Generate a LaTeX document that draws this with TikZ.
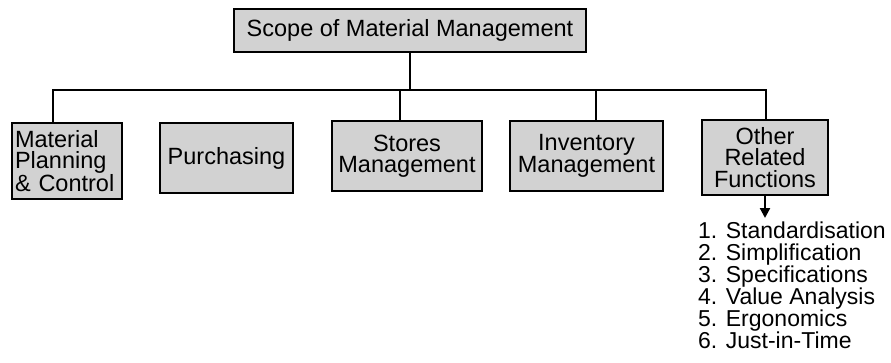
\documentclass[tikz,border=0pt]{standalone}
\usepackage{fontspec}
\setmainfont{Liberation Sans}
\usetikzlibrary{arrows.meta}
\begin{document}
\begin{tikzpicture}[x=1pt,y=-1pt,
  box/.style={draw=black,line width=2.2pt,fill=boxgray,inner sep=0pt,align=center,
    font=\fontsize{23.5}{21.5}\selectfont},
  conn/.style={line width=2.2pt}]
\definecolor{boxgray}{HTML}{D2D2D2}
\useasboundingbox (0,0) rectangle (891,362);
\node[box,minimum width=352pt,minimum height=43pt] (top) at (410,30.5) {Scope of Material Management};
\node[box,text width=104pt,inner xsep=3pt,align=left,minimum height=76pt] (mpc) at (67,161) {Material\\Planning\\\& Control};
\node[box,minimum width=133pt,minimum height=70pt] (pur) at (226.5,158) {Purchasing};
\node[box,minimum width=150pt,minimum height=70pt] (sto) at (407,156) {Stores\\Management};
\node[box,minimum width=153pt,minimum height=70pt] (inv) at (586.5,156) {Inventory\\Management};
\node[box,minimum width=126pt,minimum height=75pt] (oth) at (765,157.5) {Other\\Related\\Functions};
\node[anchor=north west,inner sep=0pt,align=left,font=\fontsize{23}{22}\selectfont] (list) at (698,222)
 {1. Standardisation\\2. Simplification\\3. Specifications\\4. Value Analysis\\5. Ergonomics\\6. Just-in-Time};
\coordinate (busL) at (53,90);
\coordinate (busR) at (766,90);
\coordinate (sx) at (400,90);
\coordinate (ix) at (596,90);
\draw[conn] (top.south |- 0,52) -- (top.south |- busL);
\draw[conn] (mpc.north -| busL) -- (busL) -- (busR) -- (oth.north -| busR);
\draw[conn] (sto.north -| sx) -- (sx);
\draw[conn] (inv.north -| ix) -- (ix);
\draw[conn,-{Triangle[width=10pt,length=10pt]}] (oth.south) -- (oth.south |- 0,218);
\end{tikzpicture}
\end{document}
